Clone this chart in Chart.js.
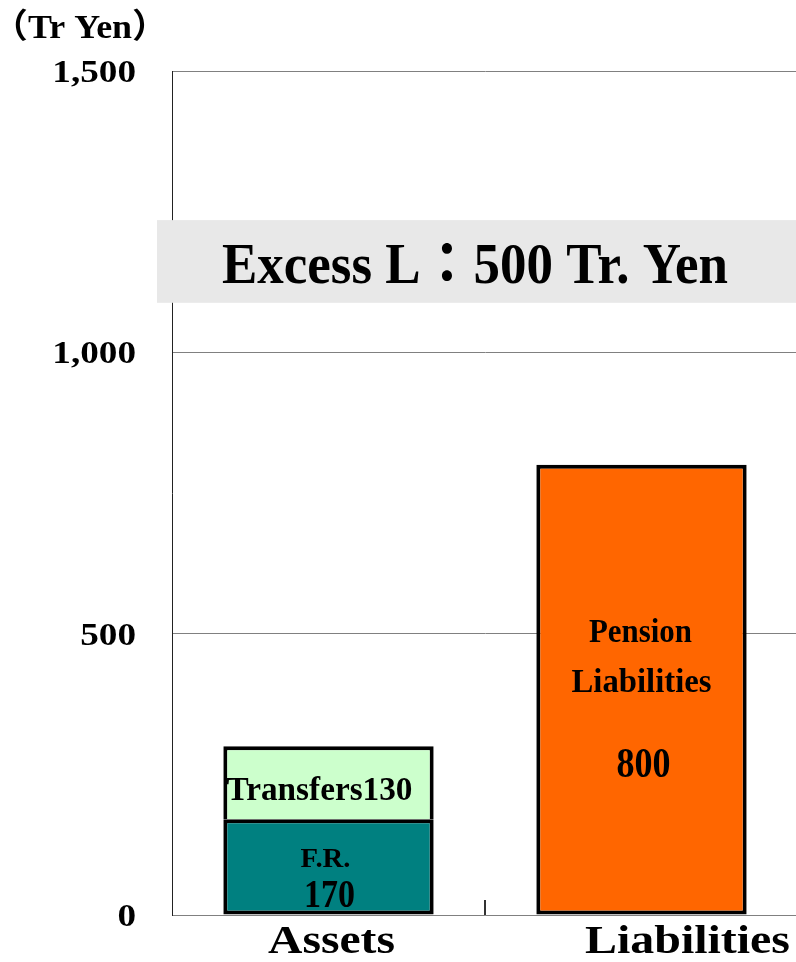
<!DOCTYPE html>
<html><head><meta charset="utf-8">
<script src="https://cdn.jsdelivr.net/npm/chart.js@4"></script>
<style>html,body{margin:0;padding:0;background:#fff;overflow:hidden}#wrap{width:812px;height:962px;position:relative}</style>
</head><body><div id="wrap"><canvas id="c"></canvas></div>
<script>
const categories = ['Assets', 'Liabilities'];
const frValues = [170, null];
const transferValues = [130, null];
const pensionValues = [null, 800];
const yTickValues = [0, 500, 1000, 1500];
const unitLabel = '（Tr Yen）';
const frLabel = 'F.R.';
const transferLabel = 'Transfers';
const pensionLabel = ['Pension', 'Liabilities'];

const assetsTotal = (frValues[0] || 0) + (transferValues[0] || 0);
const liabTotal = pensionValues[1] || 0;
const excess = liabTotal - assetsTotal;

const FONT = '"Liberation Serif", "Times New Roman", "Noto Sans CJK JP", serif';

function fitText(ctx, str, cx, by, size, w, align, sx) {
  ctx.save();
  ctx.font = `bold ${size}px ${FONT}`;
  ctx.fillStyle = '#000';
  ctx.textBaseline = 'alphabetic';
  ctx.textAlign = align || 'center';
  const m = ctx.measureText(str).width;
  const s = w ? w / m : (sx || 1);
  ctx.translate(cx, by);
  ctx.scale(s, 1);
  ctx.fillText(str, 0, 0);
  ctx.restore();
}

const decor = {
  id: 'decor',
  afterDatasetsDraw(chart) {
    const ctx = chart.ctx, ca = chart.chartArea;
    const y = chart.scales.y, x = chart.scales.x;
    // category divider tick
    const xb = (x.getPixelForValue(0) + x.getPixelForValue(1)) / 2;
    ctx.save();
    ctx.strokeStyle = '#333'; ctx.lineWidth = 2;
    ctx.beginPath(); ctx.moveTo(xb, ca.bottom - 15); ctx.lineTo(xb, ca.bottom); ctx.stroke();
    ctx.restore();

    // y tick labels
    yTickValues.forEach(v => {
      const py = y.getPixelForValue(v);
      fitText(ctx, v.toLocaleString('en-US'), ca.left - 36, py + 11, 31, null, 'right', 1.2);
    });
    // unit label
    fitText(ctx, unitLabel, 80, 38, 34, 176);

    // excess box
    const bt = y.getPixelForValue(1235), bb = y.getPixelForValue(1088);
    ctx.save();
    ctx.fillStyle = '#e8e8e8';
    ctx.fillRect(ca.left - 15, bt, chart.width - (ca.left - 15), bb - bt);
    ctx.restore();
    fitText(ctx, 'Excess L：' + excess + ' Tr. Yen', 475, bb - 20, 57, 506);

    // category labels
    const catDx = [3, 46];
    const catW = [127, 205];
    categories.forEach((c, i) => {
      fitText(ctx, c, x.getPixelForValue(i) + catDx[i], ca.bottom + 38, 40, catW[i]);
    });

    // bar labels
    const m0 = chart.getDatasetMeta(0).data[0];
    const m1 = chart.getDatasetMeta(1).data[0];
    const m2 = chart.getDatasetMeta(2).data[1];
    const frMid = y.getPixelForValue(frValues[0] / 2);
    fitText(ctx, frLabel, m0.x - 3, frMid, 27, 50);
    fitText(ctx, String(frValues[0]), m0.x + 1, frMid + 40, 40, 51);
    const trMid = y.getPixelForValue(frValues[0] + transferValues[0] / 2);
    fitText(ctx, transferLabel + transferValues[0], m1.x - 9, trMid + 17, 33, 186);
    const peMid = y.getPixelForValue(pensionValues[1] / 2);
    fitText(ctx, pensionLabel[0], m2.x - 1, peMid - 48, 34, 103);
    fitText(ctx, pensionLabel[1], m2.x, peMid + 2, 34, 140);
    fitText(ctx, String(pensionValues[1]), m2.x + 2, peMid + 87, 42, 54);
  }
};

new Chart(document.getElementById('c'), {
  type: 'bar',
  data: {
    labels: categories,
    datasets: [
      { label: 'F.R.', data: frValues, backgroundColor: '#008080', borderColor: '#000',
        borderWidth: {top: 4, left: 4, right: 4, bottom: 4}, borderSkipped: false },
      { label: 'Transfers', data: transferValues, backgroundColor: '#ccffcc', borderColor: '#000',
        borderWidth: {top: 4, left: 4, right: 4, bottom: 0}, borderSkipped: false },
      { label: 'Pension Liabilities', data: pensionValues, backgroundColor: '#ff6600', borderColor: '#000',
        borderWidth: {top: 4, left: 4, right: 4, bottom: 4}, borderSkipped: false }
    ]
  },
  options: {
    responsive: true,
    maintainAspectRatio: false,
    animation: false,
    barPercentage: 0.672,
    categoryPercentage: 1,
    layout: { padding: { top: 71, right: 14, left: 0, bottom: 0 } },
    plugins: { legend: { display: false }, tooltip: { enabled: false } },
    scales: {
      x: {
        stacked: true,
        offset: true,
        grid: { display: false },
        ticks: { display: false },
        border: { color: '#808080', width: 1 },
        afterFit(s) { s.height = 47; }
      },
      y: {
        stacked: true,
        min: 0, max: 1500,
        ticks: { display: false, stepSize: 500 },
        grid: { color: '#808080', drawTicks: false, lineWidth: 1 },
        border: { color: '#222', width: 1 },
        afterFit(s) { s.width = 172; }
      }
    }
  },
  plugins: [decor]
});
</script>
</body></html>
